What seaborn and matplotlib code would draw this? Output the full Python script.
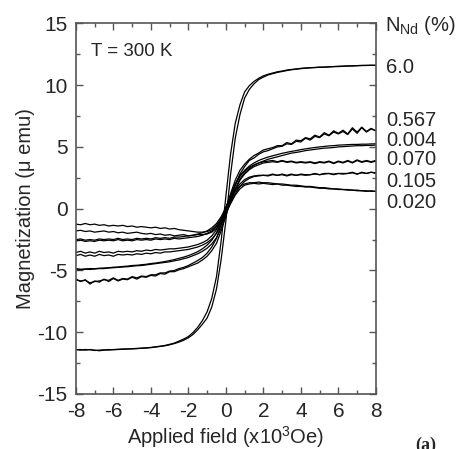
# M-H loops, T = 300 K
import numpy as np
import pandas as pd
import matplotlib
matplotlib.use("Agg")
import matplotlib.pyplot as plt
from matplotlib.ticker import MultipleLocator
import seaborn as sns

sns.set_style("ticks")
plt.rcParams["font.family"] = ["Liberation Sans", "DejaVu Sans"]
plt.rcParams["mathtext.fontset"] = "custom"
plt.rcParams["mathtext.rm"] = "Liberation Sans"
plt.rcParams["mathtext.it"] = "Liberation Sans:italic"
plt.rcParams["axes.unicode_minus"] = False

# applied field sweep (x10^3 Oe)
field = [-8, -7.75, -7.5, -7.25, -7, -6.75, -6.5, -6.25, -6, -5.75, -5.5, -5.25,
         -5, -4.75, -4.5, -4.25, -4, -3.75, -3.5, -3.25, -3, -2.75, -2.5, -2.25,
         -2, -1.75, -1.5, -1.25, -1, -0.75, -0.5, -0.25, 0, 0.25, 0.5, 0.75,
         1, 1.25, 1.5, 1.75, 2, 2.25, 2.5, 2.75, 3, 3.25, 3.5, 3.75, 4, 4.25,
         4.5, 4.75, 5, 5.25, 5.5, 5.75, 6, 6.25, 6.5, 6.75, 7, 7.25, 7.5, 7.75, 8]

samples = ["6.0", "0.567", "0.004", "0.070", "0.105", "0.020"]

# magnetization (micro emu), ascending (up) and descending (down) branches
m60_up = [-11.4, -11.45, -11.4, -11.42, -11.45, -11.5, -11.45, -11.4, -11.42, -11.4,
          -11.38, -11.35, -11.35, -11.33, -11.3, -11.28, -11.25, -11.2, -11.15, -11.1,
          -11.02, -10.92, -10.8, -10.65, -10.45, -10.18, -9.8, -9.35, -8.85, -7.95,
          -6.5, -4.1,
          -1.0, 2.75, 5.7, 7.6, 8.95, 9.65, 10.1, 10.45, 10.65, 10.82,
          10.93, 11.03, 11.1, 11.18, 11.24, 11.29, 11.33, 11.37, 11.4, 11.42,
          11.44, 11.45, 11.47, 11.5, 11.5, 11.52, 11.54, 11.55, 11.57, 11.58,
          11.59, 11.6, 11.6]
m60_dn = [-11.42, -11.4, -11.45, -11.4, -11.48, -11.45, -11.42, -11.45, -11.4, -11.38,
          -11.36, -11.36, -11.33, -11.31, -11.29, -11.26, -11.23, -11.18, -11.13, -11.07,
          -10.98, -10.88, -10.72, -10.55, -10.35, -10.02, -9.6, -9.05, -8.35, -7.25,
          -5.5, -2.6,
          1.0, 4.4, 6.9, 8.4, 9.45, 9.95, 10.3, 10.55, 10.75, 10.88,
          10.98, 11.08, 11.14, 11.22, 11.27, 11.31, 11.36, 11.39, 11.41, 11.43,
          11.46, 11.46, 11.49, 11.5, 11.53, 11.54, 11.56, 11.56, 11.58, 11.6,
          11.6, 11.61, 11.6]

m567_up = [-5.7, -5.9, -5.75, -6.1, -5.85, -5.95, -5.7, -5.9, -5.65, -5.85,
           -5.7, -5.75, -5.55, -5.7, -5.5, -5.55, -5.4, -5.45, -5.25, -5.3,
           -5.1, -5.1, -4.95, -4.85, -4.7, -4.55, -4.4, -4.15, -3.85, -3.4,
           -2.8, -1.8,
           -0.6, 0.7, 1.9, 2.8, 3.4, 3.9, 4.1, 4.4, 4.6, 4.7,
           4.85, 5.0, 5.05, 5.25, 5.2, 5.45, 5.4, 5.7, 5.55, 5.85,
           5.75, 6.05, 5.9, 6.2, 6.05, 6.25, 6.0, 6.45, 6.1, 6.55,
           6.2, 6.45, 6.3]
m567_dn = [-5.75, -5.85, -5.8, -6.0, -5.9, -5.85, -5.75, -5.8, -5.6, -5.8,
           -5.65, -5.7, -5.5, -5.6, -5.45, -5.5, -5.35, -5.35, -5.2, -5.2,
           -5.05, -5.0, -4.85, -4.75, -4.6, -4.4, -4.2, -3.95, -3.6, -3.1,
           -2.4, -1.3,
           0.0, 1.2, 2.3, 3.1, 3.6, 4.0, 4.3, 4.5, 4.75, 4.85,
           4.95, 5.1, 5.1, 5.35, 5.25, 5.55, 5.5, 5.75, 5.65, 5.95,
           5.8, 6.15, 5.95, 6.3, 6.1, 6.35, 6.05, 6.55, 6.2, 6.6,
           6.25, 6.5, 6.3]

m004_up = [-4.95, -4.95, -4.9, -4.92, -4.88, -4.85, -4.85, -4.8, -4.78, -4.75,
           -4.72, -4.7, -4.66, -4.62, -4.6, -4.55, -4.5, -4.45, -4.4, -4.35,
           -4.3, -4.22, -4.15, -4.05, -3.95, -3.8, -3.65, -3.45, -3.2, -2.85,
           -2.35, -1.6,
           -0.5, 0.6, 1.6, 2.4, 2.9, 3.25, 3.5, 3.7, 3.85, 4.0,
           4.1, 4.2, 4.3, 4.4, 4.5, 4.55, 4.62, 4.7, 4.75, 4.8,
           4.85, 4.9, 4.92, 4.95, 5.0, 5.02, 5.05, 5.07, 5.1, 5.1,
           5.12, 5.12, 5.15]
m004_dn = [-4.85, -4.9, -4.88, -4.85, -4.86, -4.82, -4.8, -4.78, -4.74, -4.72,
           -4.68, -4.65, -4.6, -4.58, -4.54, -4.5, -4.44, -4.4, -4.34, -4.28,
           -4.2, -4.12, -4.02, -3.92, -3.8, -3.65, -3.48, -3.25, -2.95, -2.55,
           -1.95, -1.1,
           0.1, 1.1, 2.0, 2.7, 3.1, 3.45, 3.7, 3.9, 4.05, 4.18,
           4.28, 4.38, 4.48, 4.56, 4.64, 4.7, 4.78, 4.84, 4.9, 4.95,
           5.0, 5.04, 5.08, 5.1, 5.14, 5.16, 5.18, 5.2, 5.2, 5.22,
           5.22, 5.24, 5.25]

m070_up = [-3.8, -3.7, -3.85, -3.75, -3.85, -3.7, -3.8, -3.75, -3.85, -3.7,
           -3.75, -3.7, -3.75, -3.65, -3.7, -3.6, -3.65, -3.55, -3.6, -3.5,
           -3.5, -3.45, -3.4, -3.35, -3.3, -3.2, -3.1, -2.95, -2.75, -2.45,
           -2.0, -1.3,
           -0.4, 0.6, 1.5, 2.3, 2.8, 3.15, 3.4, 3.55, 3.7, 3.75,
           3.8, 3.75, 3.85, 3.75, 3.8, 3.7, 3.75, 3.7, 3.75, 3.65,
           3.75, 3.7, 3.8, 3.65, 3.8, 3.7, 3.85, 3.7, 3.9, 3.75,
           3.85, 3.75, 3.85]
m070_dn = [-3.55, -3.45, -3.6, -3.5, -3.6, -3.45, -3.55, -3.5, -3.6, -3.45,
           -3.5, -3.45, -3.5, -3.4, -3.45, -3.35, -3.4, -3.3, -3.35, -3.3,
           -3.25, -3.25, -3.2, -3.15, -3.1, -3.0, -2.9, -2.75, -2.55, -2.2,
           -1.7, -0.9,
           0.0, 1.0, 1.9, 2.6, 3.05, 3.35, 3.55, 3.7, 3.8, 3.85,
           3.9, 3.8, 3.9, 3.8, 3.85, 3.75, 3.8, 3.75, 3.8, 3.7,
           3.8, 3.75, 3.85, 3.7, 3.85, 3.75, 3.9, 3.75, 3.95, 3.8,
           3.9, 3.8, 3.9]

m105_up = [-2.6, -2.55, -2.65, -2.6, -2.65, -2.55, -2.6, -2.55, -2.6, -2.5,
           -2.6, -2.55, -2.6, -2.5, -2.55, -2.5, -2.55, -2.45, -2.5, -2.45,
           -2.5, -2.4, -2.45, -2.4, -2.35, -2.3, -2.25, -2.15, -2.0, -1.8,
           -1.45, -0.95,
           -0.3, 0.5, 1.2, 1.8, 2.2, 2.45, 2.6, 2.65, 2.7, 2.65,
           2.75, 2.7, 2.75, 2.65, 2.75, 2.7, 2.75, 2.7, 2.75, 2.8,
           2.75, 2.8, 2.85, 2.75, 2.85, 2.8, 2.85, 2.9, 2.8, 2.9,
           2.85, 2.95, 2.85]
m105_dn = [-2.5, -2.45, -2.55, -2.5, -2.55, -2.45, -2.5, -2.45, -2.5, -2.4,
           -2.5, -2.45, -2.5, -2.4, -2.45, -2.4, -2.45, -2.35, -2.4, -2.35,
           -2.4, -2.3, -2.3, -2.25, -2.2, -2.15, -2.05, -1.95, -1.8, -1.55,
           -1.2, -0.65,
           0.1, 0.85, 1.5, 2.0, 2.35, 2.55, 2.65, 2.7, 2.7, 2.7,
           2.8, 2.7, 2.8, 2.7, 2.8, 2.7, 2.8, 2.75, 2.75, 2.85,
           2.75, 2.85, 2.85, 2.8, 2.85, 2.85, 2.85, 2.95, 2.8, 2.95,
           2.85, 2.95, 2.9]

m020_up = [-1.8, -1.75, -1.85, -1.8, -1.9, -1.85, -1.8, -1.9, -1.85, -1.95,
           -1.9, -2.0, -1.95, -1.9, -2.0, -2.05, -2.0, -2.1, -2.05, -2.15,
           -2.1, -2.2, -2.15, -2.1, -2.2, -2.15, -2.1, -2.1, -2.05, -1.9,
           -1.6, -1.1,
           -0.4, 0.4, 1.1, 1.6, 1.9, 2.0, 2.05, 2.0, 2.05, 2.0,
           1.95, 2.0, 1.9, 1.9, 1.85, 1.8, 1.8, 1.75, 1.75, 1.7,
           1.65, 1.65, 1.6, 1.6, 1.55, 1.55, 1.5, 1.5, 1.45, 1.45,
           1.4, 1.45, 1.4]
m020_dn = [-1.25, -1.3, -1.2, -1.3, -1.25, -1.35, -1.3, -1.4, -1.35, -1.4,
           -1.35, -1.45, -1.4, -1.5, -1.45, -1.5, -1.55, -1.5, -1.6, -1.55,
           -1.65, -1.6, -1.7, -1.75, -1.8, -1.85, -1.9, -1.9, -1.85, -1.7,
           -1.35, -0.8,
           0.0, 0.75, 1.4, 1.8, 2.0, 2.1, 2.1, 2.15, 2.1, 2.1,
           2.05, 2.0, 2.0, 1.95, 1.9, 1.9, 1.85, 1.8, 1.8, 1.75,
           1.7, 1.7, 1.65, 1.6, 1.6, 1.55, 1.55, 1.5, 1.5, 1.45,
           1.45, 1.4, 1.4]

label_y = [11.4, 7.1, 5.5, 3.95, 2.2, 0.5]

branches = {
    "6.0": (m60_up, m60_dn), "0.567": (m567_up, m567_dn),
    "0.004": (m004_up, m004_dn), "0.070": (m070_up, m070_dn),
    "0.105": (m105_up, m105_dn), "0.020": (m020_up, m020_dn),
}
rows = []
for s in samples:
    up, dn = branches[s]
    for name, vals in (("up", up), ("down", dn)):
        rows.append(pd.DataFrame({"H": field, "M": vals, "curve": s + name}))
df = pd.concat(rows, ignore_index=True)

fig = plt.figure(figsize=(4.6, 4.49), dpi=100)
ax = fig.add_axes([0.165, 0.1225, 0.652, 0.8255])

sns.lineplot(data=df, x="H", y="M", units="curve", estimator=None, sort=False,
             color="black", linewidth=0.9, ax=ax)

ax.set_xlim(-8, 8)
ax.set_ylim(-15, 15)
ax.xaxis.set_major_locator(MultipleLocator(2))
ax.xaxis.set_minor_locator(MultipleLocator(1))
ax.yaxis.set_major_locator(MultipleLocator(5))
ax.yaxis.set_minor_locator(MultipleLocator(2.5))
ax.tick_params(which="both", direction="in", top=True, right=True,
               color="#555555", labelsize=15)
ax.tick_params(axis="x", pad=6)
ax.tick_params(axis="y", pad=6)
ax.tick_params(which="major", length=5, width=1)
ax.tick_params(which="minor", length=3, width=1)
for sp in ax.spines.values():
    sp.set_color("#555555")
    sp.set_linewidth(1.2)

ax.set_xlabel(r"Applied field (x10$^{3}$Oe)", fontsize=14.5, labelpad=2)
ax.set_ylabel("Magnetization (μ emu)", fontsize=14.5, labelpad=2)

ax.text(-7.2, 12.7, "T = 300 K", fontsize=13.5, va="center", ha="left")
ax.text(8.5, 14.8, r"N$_{\mathrm{Nd}}$ (%)", fontsize=14.5, va="center", ha="left",
        clip_on=False)
for s, yy in zip(samples, label_y):
    ax.text(8.55, yy, s, fontsize=14.5, va="center", ha="left", clip_on=False)

fig.text(0.925, -0.012, "(a)", fontsize=13, fontweight="bold",
         family="Liberation Serif", ha="center", va="bottom")

fig.savefig("out.png", dpi=100)
